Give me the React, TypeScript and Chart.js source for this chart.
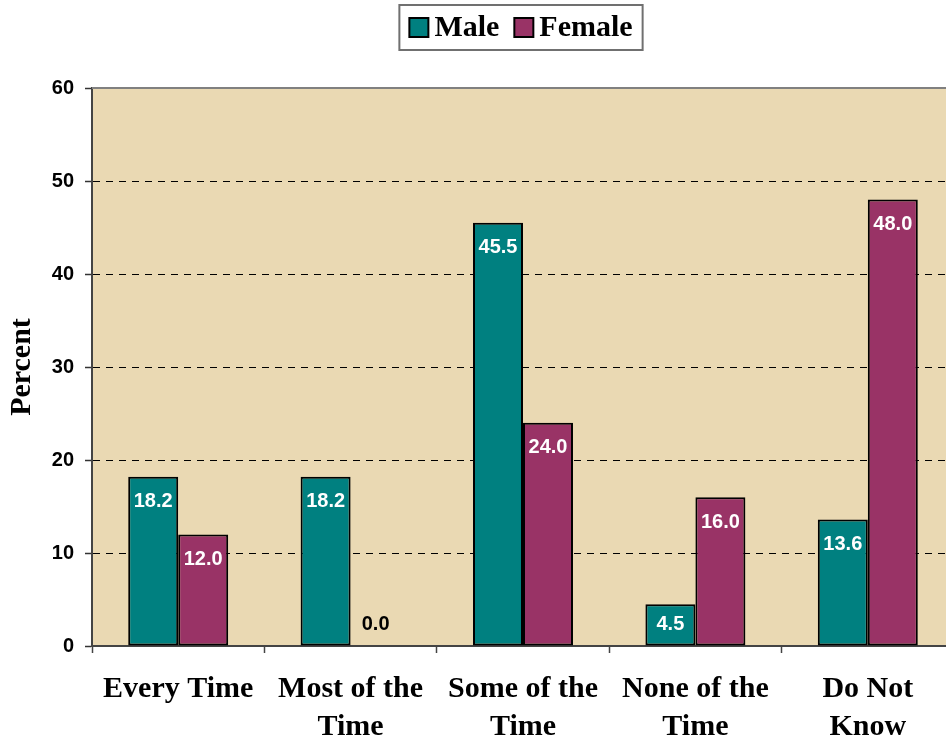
import React, { useEffect, useRef } from "react";
import { Chart, registerables } from "chart.js";

Chart.register(...registerables);

// ---- data ----
const categories: (string | string[])[] = [
  "Every Time",
  ["Most of the", "Time"],
  ["Some of the", "Time"],
  ["None of the", "Time"],
  ["Do Not", "Know"],
];
const maleValues = [18.2, 18.2, 45.5, 4.5, 13.6];
const femaleValues = [12.0, 0.0, 24.0, 16.0, 48.0];
const seriesNames = ["Male", "Female"];
const yMin = 0;
const yMax = 60;
const yStep = 10;
const yTitle = "Percent";

// ---- style ----
const MALE_COLOR = "#008080";
const FEMALE_COLOR = "#993366";
const SERIF = "'Liberation Serif', 'Times New Roman', serif";
const SANS = "'Liberation Sans', Arial, sans-serif";

const backgroundPlugin = {
  id: "parchment",
  beforeDraw(chart: any) {
    const { ctx, chartArea } = chart;
    const { left, top, right, bottom } = chartArea;
    ctx.save();
    ctx.fillStyle = "#EAD9B3";
    ctx.fillRect(left, top, right - left, bottom - top);
    ctx.restore();
  },
  afterDraw(chart: any) {
    const { ctx, chartArea } = chart;
    ctx.save();
    ctx.strokeStyle = "#808080";
    ctx.lineWidth = 2;
    ctx.beginPath();
    ctx.moveTo(chartArea.left, chartArea.top);
    ctx.lineTo(chartArea.right, chartArea.top);
    ctx.stroke();
    ctx.restore();
  },
};

const valueLabelPlugin = {
  id: "valueLabels",
  afterDatasetsDraw(chart: any) {
    const { ctx } = chart;
    const base = chart.scales.y.getPixelForValue(0);
    ctx.save();
    ctx.font = `bold 20px ${SANS}`;
    ctx.textAlign = "center";
    ctx.textBaseline = "middle";
    chart.data.datasets.forEach((ds: any, di: number) => {
      const meta = chart.getDatasetMeta(di);
      meta.data.forEach((bar: any, i: number) => {
        const v = ds.data[i] as number;
        const y = Math.min(bar.y + 25, base - 22);
        ctx.fillStyle = v > 1 ? "#FFFFFF" : "#000000";
        ctx.fillText(v.toFixed(1), bar.x, y);
      });
    });
    ctx.restore();
  },
};

const legendPlugin = {
  id: "boxLegend",
  afterDraw(chart: any) {
    const { ctx, chartArea } = chart;
    const colors = [MALE_COLOR, FEMALE_COLOR];
    ctx.save();
    ctx.font = `bold 30px ${SERIF}`;
    const sq = 19;
    const gapSqText = 6;
    const gapItems = 15;
    const padX = 10;
    const widths = seriesNames.map((n) => ctx.measureText(n).width);
    let total = padX * 2;
    widths.forEach((w, i) => {
      total += sq + gapSqText + w + (i < widths.length - 1 ? gapItems : 0);
    });
    const cx = (chartArea.left + chartArea.right) / 2 - 2;
    const boxTop = 5;
    const boxH = 45;
    const boxLeft = cx - total / 2;
    ctx.fillStyle = "#FFFFFF";
    ctx.fillRect(boxLeft, boxTop, total, boxH);
    ctx.strokeStyle = "#707070";
    ctx.lineWidth = 2;
    ctx.strokeRect(boxLeft, boxTop, total, boxH);
    let x = boxLeft + padX;
    const midY = boxTop + boxH / 2;
    seriesNames.forEach((n, i) => {
      ctx.fillStyle = colors[i];
      ctx.fillRect(x, midY - sq / 2, sq, sq);
      ctx.strokeStyle = "#000";
      ctx.lineWidth = 2;
      ctx.strokeRect(x, midY - sq / 2, sq, sq);
      x += sq + gapSqText;
      ctx.fillStyle = "#000";
      ctx.textAlign = "left";
      ctx.textBaseline = "middle";
      ctx.fillText(n, x, midY + 1);
      x += widths[i] + gapItems;
    });
    ctx.restore();
  },
};

export default function App() {
  const ref = useRef<HTMLCanvasElement | null>(null);

  useEffect(() => {
    if (!ref.current) return;
    const chart = new Chart(ref.current, {
      type: "bar",
      data: {
        labels: categories as any,
        datasets: [
          {
            label: seriesNames[0],
            data: maleValues,
            backgroundColor: MALE_COLOR,
            borderColor: "#000",
            borderWidth: 2,
            borderSkipped: false,
          },
          {
            label: seriesNames[1],
            data: femaleValues,
            backgroundColor: FEMALE_COLOR,
            borderColor: "#000",
            borderWidth: 2,
            borderSkipped: false,
          },
        ],
      },
      options: {
        responsive: false,
        animation: false,
        devicePixelRatio: 1,
        layout: { padding: { top: 88, left: 0, right: 0, bottom: 0 } },
        datasets: { bar: { categoryPercentage: 0.58, barPercentage: 1.0 } },
        plugins: {
          legend: { display: false },
          title: { display: false },
          tooltip: { enabled: false },
        },
        scales: {
          x: {
            offset: true,
            grid: {
              offset: true,
              drawOnChartArea: false,
              drawTicks: true,
              tickLength: 7,
              tickColor: "#444",
              tickWidth: 1.5,
            },
            border: { display: true, color: "#444", width: 2 },
            ticks: {
              color: "#000",
              font: { family: SERIF, size: 30, weight: "bold", lineHeight: 1.24 },
              padding: 18,
              maxRotation: 0,
              minRotation: 0,
              autoSkip: false,
            },
            afterFit: (s: any) => {
              s.height = 96;
            },
          },
          y: {
            min: yMin,
            max: yMax,
            grid: {
              color: (c: any) =>
                c.tick && (c.tick.value === yMin || c.tick.value === yMax)
                  ? "rgba(0,0,0,0)"
                  : "#000",
              lineWidth: 1,
              drawTicks: true,
              tickLength: 7,
              tickColor: "#333",
              tickWidth: 1.5,
            },
            border: { display: true, color: "#444", width: 2, dash: [7, 6] },
            ticks: {
              stepSize: yStep,
              color: "#000",
              font: { family: SANS, size: 20, weight: "bold" },
              padding: 11,
            },
            title: {
              display: true,
              text: yTitle,
              color: "#000",
              font: { family: SERIF, size: 30, weight: "bold", lineHeight: 1.2 },
              padding: { top: 4, bottom: 0 },
            },
            afterFit: (s: any) => {
              s.width = 92;
            },
          },
        },
      },
      plugins: [backgroundPlugin, valueLabelPlugin, legendPlugin],
    } as any);
    return () => chart.destroy();
  }, []);

  return (
    <div
      style={{
        position: "fixed",
        left: 0,
        top: 0,
        width: 946,
        height: 742,
        overflow: "hidden",
        background: "#fff",
      }}
    >
      <canvas ref={ref} width={954} height={742} style={{ display: "block" }} />
    </div>
  );
}
